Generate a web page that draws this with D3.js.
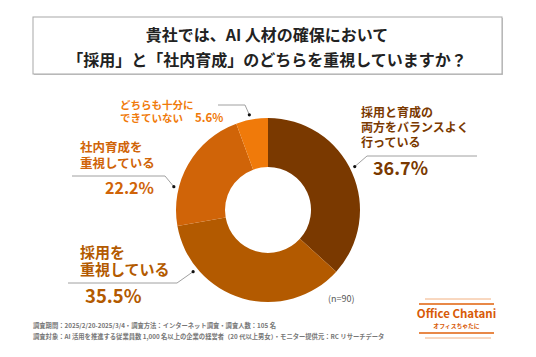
<!DOCTYPE html>
<html><head><meta charset="utf-8">
<script src="https://cdn.jsdelivr.net/npm/d3@7"></script>
<style>
html,body{margin:0;padding:0;background:#fff;}
svg{display:block;font-family:"Noto Sans CJK JP","Noto Sans",sans-serif;}
</style></head>
<body><svg id="c" width="536" height="357"></svg>
<script>
// ---- data ----
const titleLines = ["貴社では、AI 人材の確保において", "「採用」と「社内育成」のどちらを重視していますか？"];
const categories = ["採用と育成の両方をバランスよく行っている", "採用を重視している", "社内育成を重視している", "どちらも十分にできていない"];
const values = [36.7, 35.5, 22.2, 5.6];
const labelLines = [["採用と育成の", "両方をバランスよく", "行っている"], ["採用を", "重視している"], ["社内育成を", "重視している"], ["どちらも十分に", "できていない"]];
const colors = ["#7a3900", "#b35a00", "#d06408", "#f07a0a"];
const sampleNote = "(n=90)";
const footerLines = ["調査期間：2025/2/20-2025/3/4・調査方法：インターネット調査・調査人数：105 名",
  "調査対象：AI 活用を推進する従業員数 1,000 名以上の企業の経営者（20 代以上男女）・モニター提供元：RC リサーチデータ"];

// ---- layout ----
const svg = d3.select("#c");
svg.append("rect").attr("width", 536).attr("height", 357).attr("fill", "#fff");

// title box
svg.append("rect").attr("x", 34).attr("y", 18).attr("width", 469).attr("height", 57).attr("fill", "#c8c8c8");
svg.append("rect").attr("x", 33).attr("y", 17).attr("width", 469).attr("height", 57)
  .attr("fill", "#fff").attr("stroke", "#a8a8a8").attr("stroke-width", 1);
svg.append("g").selectAll("text").data(titleLines).join("text")
  .attr("x", 267).attr("y", (d, i) => 41 + i * 25)
  .attr("text-anchor", "middle").attr("font-size", 16).attr("font-weight", 700).attr("fill", "#222")
  .text(d => d);

// donut
const cx = 268, cy = 210, R = 92, r0 = 43;
const pie = d3.pie().sort(null).value(d => d);
const arcs = pie(values);
const arc = d3.arc().innerRadius(r0).outerRadius(R);
const g = svg.append("g").attr("transform", `translate(${cx},${cy})`);
g.selectAll("path").data(arcs).join("path").attr("d", arc).attr("fill", (d, i) => colors[i]);

// leader anchors: position within slice, then elbow and end point
const anchorFrac = [0.48, 0.77, 0.30, 0.45];
const anchorR = 97;
const leaders = [
  {elbow: [367, 156], end: [477, 156]},
  {elbow: [177, 283], end: [68, 283]},
  {elbow: [165, 176], end: [72, 176]},
  {elbow: [245, 105], end: [218, 105]}
];
arcs.forEach((a, i) => {
  const ang = a.startAngle + (a.endAngle - a.startAngle) * anchorFrac[i];
  const px = cx + anchorR * Math.sin(ang), py = cy - anchorR * Math.cos(ang);
  const L = leaders[i];
  svg.append("path").attr("d", d3.line()([[px, py], L.elbow, L.end]))
    .attr("fill", "none").attr("stroke", "#a0a0a0").attr("stroke-width", 1);
  svg.append("circle").attr("cx", px).attr("cy", py).attr("r", 1.6).attr("fill", "#111");
});

// labels (multi-line labels as one text with tspans)
const labelLayout = [
  {x: 361, y: 117, fs: 12, lh: 15, px: 373, py: 175, pfs: 18},
  {x: 80, y: 258, fs: 15, lh: 17, px: 85, py: 303, pfs: 18.5},
  {x: 80, y: 152, fs: 12.5, lh: 15.5, px: 105, py: 194, pfs: 16},
  {x: 120, y: 109, fs: 10.5, lh: 13, px: 195, py: 122, pfs: 11.5}
];
labelLines.forEach((lines, i) => {
  const L = labelLayout[i];
  const t = svg.append("text").attr("x", L.x).attr("y", L.y)
    .attr("font-size", L.fs).attr("font-weight", 700).attr("fill", colors[i]);
  t.selectAll("tspan").data(lines).join("tspan")
    .attr("x", L.x).attr("dy", (d, j) => j === 0 ? 0 : L.lh)
    .text(d => d);
  svg.append("text").attr("x", L.px).attr("y", L.py)
    .attr("font-size", L.pfs).attr("font-weight", 700).attr("fill", colors[i])
    .text(d3.format(".1f")(values[i]) + "%");
});

// n note
svg.append("text").attr("x", 328).attr("y", 302).attr("font-size", 9).attr("fill", "#555").text(sampleNote);

// footer
svg.append("g").selectAll("text").data(footerLines).join("text")
  .attr("x", 33).attr("y", (d, i) => 328 + i * 11)
  .attr("font-size", 6.3).attr("font-weight", 700).attr("fill", "#777")
  .text(d => d);

// logo
const logo = svg.append("g");
logo.append("line").attr("x1", 425).attr("x2", 491).attr("y1", 299).attr("y2", 299).attr("stroke", "#f2b080").attr("stroke-width", 1);
logo.append("line").attr("x1", 419).attr("x2", 494).attr("y1", 304).attr("y2", 304).attr("stroke", "#e0600a").attr("stroke-width", 1.5);
logo.append("line").attr("x1", 419).attr("x2", 494).attr("y1", 333).attr("y2", 333).attr("stroke", "#e0600a").attr("stroke-width", 1.5);
logo.append("line").attr("x1", 425).attr("x2", 491).attr("y1", 338).attr("y2", 338).attr("stroke", "#f2b080").attr("stroke-width", 1);
logo.append("text").attr("x", 456.5).attr("y", 318).attr("text-anchor", "middle")
  .attr("font-size", 11.5).attr("font-weight", 700).attr("fill", "#d85a08").text("Office Chatani");
logo.append("text").attr("x", 456.5).attr("y", 328).attr("text-anchor", "middle")
  .attr("font-size", 5.8).attr("font-weight", 700).attr("fill", "#d85a08").text("オフィスちゃたに");
</script></body></html>
